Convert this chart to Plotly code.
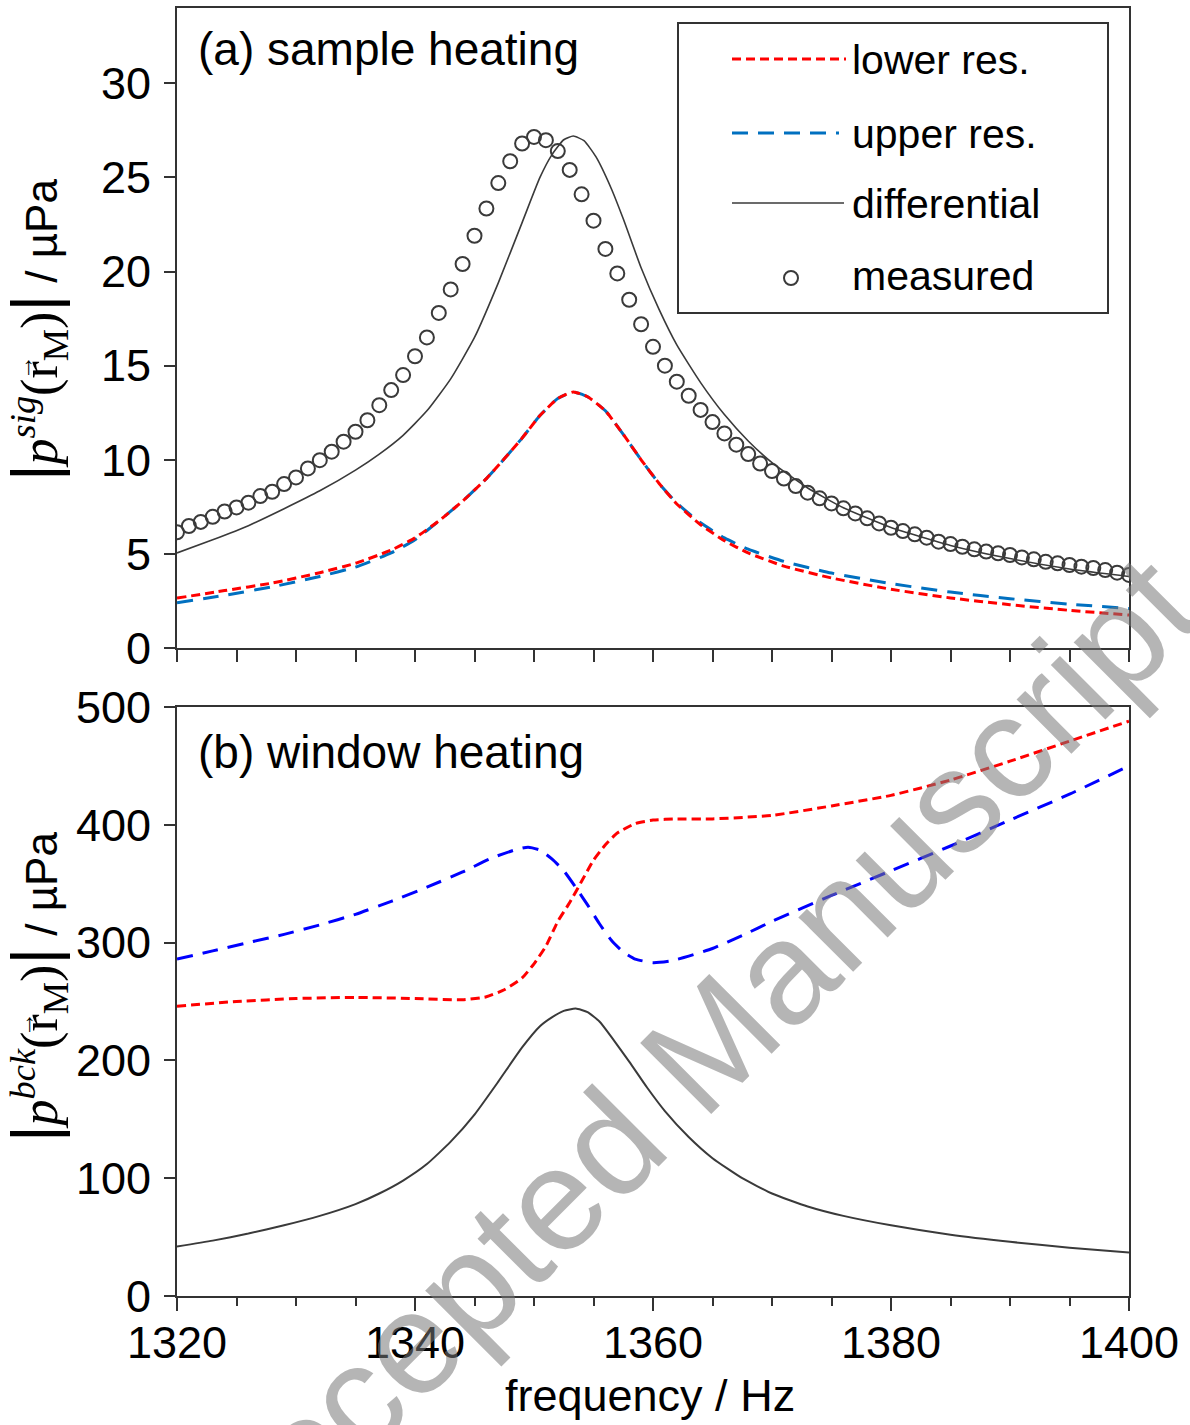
import plotly.graph_objects as go

# ---------------- data: (a) sample heating ----------------
freq_lower_a = [1320, 1324, 1328, 1332, 1335, 1338, 1340, 1342, 1344, 1346, 1347.5, 1349,
                1350.5, 1352, 1353.3, 1354.5, 1356, 1357.5, 1359, 1360.5, 1362, 1364, 1366,
                1368, 1371, 1375, 1380, 1385, 1390, 1395, 1400]
lower_a = [2.65, 3.05, 3.45, 4.0, 4.5, 5.2, 5.85, 6.75, 7.8, 9.0, 10.05, 11.15,
           12.35, 13.25, 13.6, 13.35, 12.6, 11.35, 10.0, 8.75, 7.65, 6.55, 5.7,
           5.05, 4.35, 3.72, 3.12, 2.66, 2.3, 2.0, 1.75]

freq_upper_a = [1320, 1324, 1328, 1332, 1335, 1338, 1340, 1342, 1344, 1346, 1347.5, 1349,
                1350.5, 1352, 1353.3, 1354.5, 1356, 1357.5, 1359, 1360.5, 1362, 1364, 1366,
                1368, 1371, 1375, 1380, 1385, 1390, 1395, 1400]
upper_a = [2.4, 2.8, 3.25, 3.8, 4.3, 5.05, 5.75, 6.75, 7.8, 9.0, 10.05, 11.15,
           12.35, 13.25, 13.6, 13.35, 12.6, 11.35, 10.0, 8.75, 7.7, 6.65, 5.85,
           5.25, 4.6, 3.98, 3.42, 2.97, 2.62, 2.33, 2.1]

freq_diff_a = [1320, 1323, 1326, 1329, 1332, 1335, 1337, 1339, 1341, 1343, 1345, 1347,
               1349, 1350.5, 1351.5, 1352.5, 1353.3, 1354.2, 1355.2, 1356.5, 1357.5, 1359,
               1360.5, 1362, 1364, 1366, 1368, 1370, 1373, 1376, 1380, 1385, 1390, 1395,
               1400]
diff_a = [5.05, 5.75, 6.5, 7.4, 8.35, 9.45, 10.3, 11.3, 12.6, 14.3, 16.5, 19.4,
          22.6, 25.0, 26.2, 27.0, 27.2, 26.95, 26.1, 24.4, 22.8, 20.2,
          18.0, 16.1, 14.1, 12.4, 11.0, 9.85, 8.5, 7.45, 6.4, 5.45, 4.75, 4.2,
          3.8]

freq_meas = list(range(1320, 1401))
measured = [6.15, 6.48, 6.7, 6.97, 7.25, 7.47, 7.72, 8.07, 8.3, 8.71,
            9.06, 9.54, 9.98, 10.43, 10.96, 11.49, 12.1, 12.9, 13.7, 14.5,
            15.5, 16.5, 17.8, 19.05, 20.4, 21.9, 23.35, 24.7, 25.86, 26.8,
            27.15, 26.98, 26.4, 25.4, 24.1, 22.7, 21.2, 19.9, 18.5, 17.2,
            16.0, 15.0, 14.15, 13.4, 12.65, 12.0, 11.4, 10.8, 10.3, 9.8,
            9.4, 9.0, 8.6, 8.25, 7.95, 7.68, 7.42, 7.15, 6.89, 6.62,
            6.39, 6.21, 6.04, 5.86, 5.65, 5.52, 5.38, 5.24, 5.12, 5.03,
            4.94, 4.81, 4.71, 4.58, 4.5, 4.41, 4.32, 4.25, 4.14, 4.0,
            3.88]

# ---------------- data: (b) window heating ----------------
freq_lower_b = [1320, 1325, 1330, 1335, 1340, 1344, 1346, 1347.5, 1349, 1350, 1351, 1352,
                1353, 1354, 1355, 1356, 1357, 1358.5, 1360, 1362, 1365, 1370, 1375,
                1380, 1385, 1390, 1395, 1400]
lower_b = [246, 250, 252.5, 253.5, 252.5, 251.5, 254, 260, 270, 282, 297, 318,
           334, 352, 370, 383, 393, 401, 404, 405, 405, 408, 416,
           425, 438, 454, 471, 488]

freq_upper_b = [1320, 1323, 1326, 1329, 1332, 1335, 1338, 1341, 1344, 1346.5, 1348.5, 1349.5,
                1350.5, 1351.5, 1352.5, 1353.5, 1354.5, 1355.5, 1356.5, 1357.5, 1358.5, 1360,
                1361.5, 1363, 1365, 1367.5, 1370, 1375, 1380, 1385, 1390, 1395, 1400]
upper_b = [286, 293, 300, 307, 315, 324, 335, 347, 360, 372, 379, 381,
           378.5, 371, 361, 347, 332, 316, 302, 292, 286, 283,
           284.5, 288.5, 295, 306, 318, 340, 361, 382, 404, 426, 450]

freq_diff_b = [1320, 1323, 1326, 1329, 1332, 1335, 1337, 1339, 1341, 1343, 1345, 1347,
               1349, 1350.5, 1351.5, 1352.5, 1353.5, 1354.5, 1355.5, 1356.5, 1358, 1359.5,
               1361, 1363, 1365, 1367.5, 1370, 1373, 1376, 1380, 1385, 1390, 1395, 1400]
diff_b = [42, 47, 53, 60, 68, 78, 87, 98, 112, 131, 154, 182,
          211, 229, 236.5, 242, 244, 241, 233, 220, 199, 177,
          157, 135, 117, 100, 87, 76, 68, 60, 52, 46, 41, 37]

x_ticks = [1320, 1340, 1360, 1380, 1400]
y_ticks_a = [0, 5, 10, 15, 20, 25, 30]
y_ticks_b = [0, 100, 200, 300, 400, 500]

# ---------------- styling ----------------
SANS = "Liberation Sans, Arial, sans-serif"
SERIF = "Liberation Serif, DejaVu Serif, serif"
AXIS = "#333333"
RED = "rgb(255,0,0)"
BLUE_A = "rgb(0,112,192)"
BLUE_B = "rgb(0,0,255)"
DARK = "#3a3a3a"
SHORT_DASH = "9px,5px"
LONG_DASH = "16px,10px"
TICK_SIZE = 45

# plot area in page pixels
FIG_W, FIG_H = 1190, 1425
PLOT_L, PLOT_R, PLOT_T, PLOT_B = 177, 1129, 8, 1296
PLOT_W = PLOT_R - PLOT_L
PLOT_H = PLOT_B - PLOT_T


def px_x(px):
    return (px - PLOT_L) / PLOT_W


def px_y(py):
    return (PLOT_B - py) / PLOT_H


SMOOTH = dict(shape="spline", smoothing=0.5)

fig = go.Figure()

# panel (a)
fig.add_trace(go.Scatter(x=freq_meas, y=measured, mode="markers", xaxis="x", yaxis="y",
                         marker=dict(symbol="circle-open", size=14, color=DARK,
                                     line=dict(width=2, color=DARK))))
fig.add_trace(go.Scatter(x=freq_diff_a, y=diff_a, mode="lines", xaxis="x", yaxis="y",
                         line=dict(color=DARK, width=1.6, **SMOOTH)))
fig.add_trace(go.Scatter(x=freq_upper_a, y=upper_a, mode="lines", xaxis="x", yaxis="y",
                         line=dict(color=BLUE_A, width=3, dash=LONG_DASH, **SMOOTH)))
fig.add_trace(go.Scatter(x=freq_lower_a, y=lower_a, mode="lines", xaxis="x", yaxis="y",
                         line=dict(color=RED, width=3, dash=SHORT_DASH, **SMOOTH)))

# panel (b)
fig.add_trace(go.Scatter(x=freq_diff_b, y=diff_b, mode="lines", xaxis="x2", yaxis="y2",
                         line=dict(color=DARK, width=2, **SMOOTH)))
fig.add_trace(go.Scatter(x=freq_upper_b, y=upper_b, mode="lines", xaxis="x2", yaxis="y2",
                         line=dict(color=BLUE_B, width=3, dash=LONG_DASH, **SMOOTH)))
fig.add_trace(go.Scatter(x=freq_lower_b, y=lower_b, mode="lines", xaxis="x2", yaxis="y2",
                         line=dict(color=RED, width=3, dash=SHORT_DASH, **SMOOTH)))

axis_common = dict(showline=True, linecolor=AXIS, linewidth=2, mirror=True,
                   showgrid=False, zeroline=False, ticks="outside", automargin=False,
                   tickcolor=AXIS, tickwidth=2,
                   tickfont=dict(family=SANS, size=TICK_SIZE, color="black"))

top_dom = [px_y(648), 1.0]
bot_dom = [0.0, px_y(707)]

fig.update_layout(
    width=FIG_W, height=FIG_H,
    margin=dict(l=PLOT_L, r=FIG_W - PLOT_R, t=PLOT_T, b=FIG_H - PLOT_B, pad=0,
                autoexpand=False),
    paper_bgcolor="white", plot_bgcolor="white",
    showlegend=False,
    xaxis=dict(axis_common, domain=[0, 1], range=[1320, 1400], anchor="y",
               dtick=5, tick0=1320, ticklen=12, showticklabels=False),
    yaxis=dict(axis_common, domain=top_dom, range=[0, 34], anchor="x",
               tickvals=y_ticks_a, ticklen=11, ticklabelstandoff=4),
    xaxis2=dict(axis_common, domain=[0, 1], range=[1320, 1400], anchor="y2",
                tickvals=x_ticks, ticklen=13, ticklabelstandoff=-7,
                minor=dict(dtick=5, tick0=1320, ticks="outside", ticklen=8,
                           tickwidth=2, tickcolor=AXIS, showgrid=False)),
    yaxis2=dict(axis_common, domain=bot_dom, range=[0, 500], anchor="x2",
                tickvals=y_ticks_b, ticklen=11, ticklabelstandoff=4),
)

bar = '<span style="font-size:64px">|</span>'


def ytitle(sup):
    return (bar
            + f'<span style="font-family:{SERIF};font-size:52px"><i>p</i>'
            + f'<sup><i>{sup}</i></sup>(r<sub>M</sub>)</span>'
            + bar + ' / µPa')


TITLE_X = 37
TITLE_Y_A, TITLE_Y_B = 330, 987
ARROW_DY = 38
annotations = [
    dict(text=ytitle("sig"), x=px_x(TITLE_X), y=px_y(TITLE_Y_A), textangle=-90,
         font=dict(size=44)),
    dict(text=ytitle("bck"), x=px_x(TITLE_X), y=px_y(TITLE_Y_B), textangle=-90,
         font=dict(size=44)),
    # vector arrows over the r of the position vector
    dict(text="→", x=px_x(25), y=px_y(TITLE_Y_A + ARROW_DY), textangle=-90,
         font=dict(size=25, family=SERIF)),
    dict(text="→", x=px_x(25), y=px_y(TITLE_Y_B + ARROW_DY), textangle=-90,
         font=dict(size=25, family=SERIF)),
    dict(text="frequency / Hz", x=px_x(650), y=px_y(1395), font=dict(size=45)),
    dict(text="(a) sample heating", x=px_x(196), y=px_y(49), xanchor="left",
         font=dict(size=46)),
    dict(text="(b) window heating", x=px_x(196), y=px_y(752), xanchor="left",
         font=dict(size=46)),
]

# legend of panel (a)
legend_rows = [("lower res.", 60, RED, SHORT_DASH, 846),
               ("upper res.", 134, BLUE_A, LONG_DASH, 839),
               ("differential", 204, DARK, "solid", 844),
               ("measured", 276, None, None, None)]
shapes = [dict(type="rect", xref="paper", yref="paper",
               x0=px_x(678), x1=px_x(1108), y0=px_y(23), y1=px_y(313),
               line=dict(color=AXIS, width=2), fillcolor="white", layer="above")]
for label, yc, color, dash, x_end in legend_rows:
    annotations.append(dict(text=label, x=px_x(850), y=px_y(yc), xanchor="left",
                            font=dict(size=41)))
    if color is not None:
        shapes.append(dict(type="line", xref="paper", yref="paper",
                           x0=px_x(732), x1=px_x(x_end), y0=px_y(yc - 1), y1=px_y(yc - 1),
                           line=dict(color=color, width=3 if dash != "solid" else 1.6,
                                     dash=dash), layer="above"))
    else:
        shapes.append(dict(type="circle", xref="paper", yref="paper",
                           x0=px_x(784), x1=px_x(798), y0=px_y(yc + 9), y1=px_y(yc - 5),
                           line=dict(color=DARK, width=2), layer="above"))

# watermark
annotations.append(dict(text="Accepted Manuscript", x=px_x(689), y=px_y(1064),
                        textangle=-45, font=dict(size=146, color="rgba(120,120,120,0.55)")))

for a in annotations:
    a.setdefault("xref", "paper")
    a.setdefault("yref", "paper")
    a.setdefault("showarrow", False)
    a.setdefault("xanchor", "center")
    a.setdefault("yanchor", "middle")
    f = a.setdefault("font", {})
    f.setdefault("family", SANS)
    f.setdefault("color", "black")
    f.setdefault("size", 42)

fig.update_layout(annotations=annotations, shapes=shapes)

fig.write_html("out.html")
